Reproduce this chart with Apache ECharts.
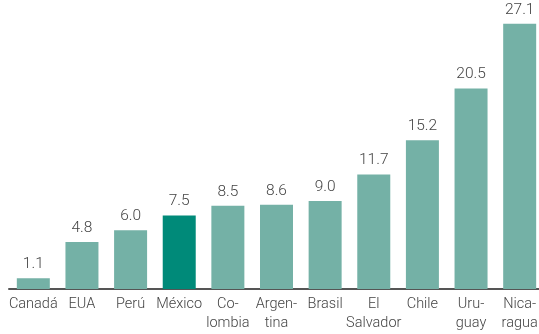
<!DOCTYPE html>
<html>
<head>
<meta charset="utf-8">
<script src="https://cdn.jsdelivr.net/npm/echarts@6/dist/echarts.min.js"></script>
<style>
  html, body { margin: 0; padding: 0; background: #fff; }
  #chart { width: 539px; height: 334px; }
</style>
</head>
<body>
<div id="chart"></div>
<script>
// Countries (hyphenated names wrap onto two lines) and their values
const categories = ['Canadá', 'EUA', 'Perú', 'México', 'Co-\nlombia', 'Argen-\ntina', 'Brasil', 'El\nSalvador', 'Chile', 'Uru-\nguay', 'Nica-\nragua'];
const values = [1.1, 4.8, 6.0, 7.5, 8.5, 8.6, 9.0, 11.7, 15.2, 20.5, 27.1];
const highlighted = 'México';

const baseColor = '#74b1a6';
const accentColor = '#008a79';

const chart = echarts.init(document.getElementById('chart'));
chart.setOption({
  animation: false,
  grid: { left: 9, width: 535, top: 15, bottom: 45, outerBoundsMode: 'none', containLabel: false },
  xAxis: {
    type: 'category',
    data: categories,
    axisLine: { lineStyle: { color: '#555', width: 2 } },
    axisTick: { show: false },
    axisLabel: {
      interval: 0,
      margin: 6,
      color: '#444',
      fontFamily: 'Roboto',
      fontWeight: 300,
      fontSize: 14.5,
      lineHeight: 19
    }
  },
  yAxis: {
    type: 'value',
    min: 0,
    max: 28,
    show: false,
    splitLine: { show: false }
  },
  series: [{
    type: 'bar',
    barWidth: 33,
    data: values.map((v, i) => ({
      value: v,
      itemStyle: { color: categories[i] === highlighted ? accentColor : baseColor }
    })),
    label: {
      show: true,
      position: 'top',
      distance: 6,
      formatter: p => p.value.toFixed(1),
      color: '#444',
      fontFamily: 'Roboto',
      fontWeight: 300,
      fontSize: 15.5
    }
  }]
});
</script>
</body>
</html>
